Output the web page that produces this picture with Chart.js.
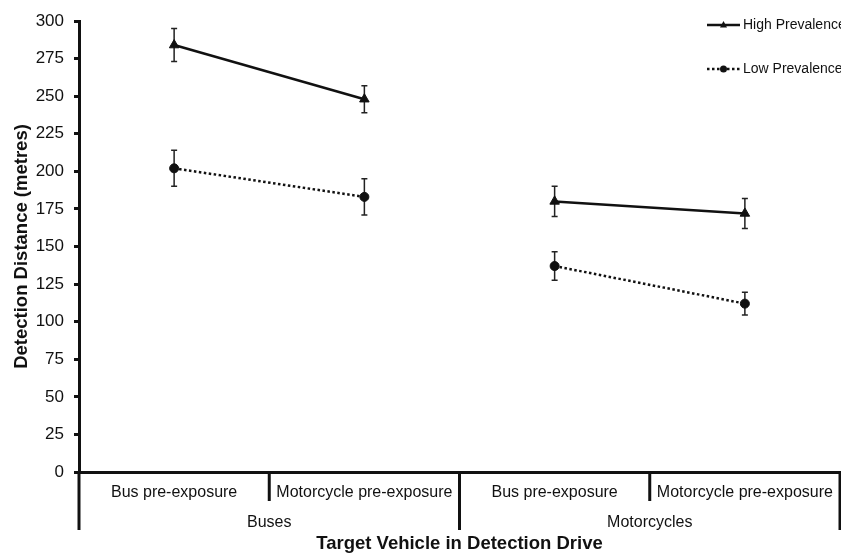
<!DOCTYPE html>
<html>
<head>
<meta charset="utf-8">
<script src="https://cdn.jsdelivr.net/npm/chart.js@4/dist/chart.umd.min.js"></script>
<style>
  html, body { margin: 0; padding: 0; background: #fff; }
  #wrap { width: 841px; height: 553px; position: relative; }
</style>
</head>
<body>
<div id="wrap"><canvas id="detection-chart"></canvas></div>
<script>
const categories = ['Bus pre-exposure', 'Motorcycle pre-exposure', 'Bus pre-exposure', 'Motorcycle pre-exposure'];
const groups = ['Buses', 'Motorcycles'];
const highPrevalence = [284, 248, 180, 172];
const highError = [11, 9, 10, 10];
const lowPrevalence = [202, 183, 137, 112];
const lowError = [12, 12, 9.5, 7.5];
const yMin = 0;
const yMax = 300;
const yStep = 25;

const INK = '#111';
const FONT = "'Liberation Sans', Arial, sans-serif";

// no line between the last Buses point and the first Motorcycles point
const hideGap = (ctx) => (ctx.p0DataIndex === 1 ? 'rgba(0,0,0,0)' : undefined);

const errorBars = {
  id: 'errorBars',
  beforeDatasetsDraw(chart) {
    const { ctx } = chart;
    const y = chart.scales.y;
    ctx.save();
    ctx.strokeStyle = '#222';
    ctx.lineWidth = 1.5;
    chart.data.datasets.forEach((ds, i) => {
      const meta = chart.getDatasetMeta(i);
      meta.data.forEach((pt, j) => {
        const v = ds.data[j];
        const e = ds.errors[j];
        const top = y.getPixelForValue(v + e);
        const bot = y.getPixelForValue(v - e);
        ctx.beginPath();
        ctx.moveTo(pt.x, top);
        ctx.lineTo(pt.x, bot);
        ctx.moveTo(pt.x - 3, top);
        ctx.lineTo(pt.x + 3, top);
        ctx.moveTo(pt.x - 3, bot);
        ctx.lineTo(pt.x + 3, bot);
        ctx.stroke();
      });
    });
    ctx.restore();
  },
};

const groupAxis = {
  id: 'groupAxis',
  afterDraw(chart) {
    const { ctx } = chart;
    const x = chart.scales.x;
    const half = (x.getPixelForValue(1) - x.getPixelForValue(0)) / 2;
    const base = chart.chartArea.bottom;
    const edge = (i) => x.getPixelForValue(i) - half;
    ctx.save();
    ctx.strokeStyle = INK;
    ctx.lineWidth = 3;
    for (let i = 0; i <= categories.length; i++) {
      const long = i % 2 === 0;
      ctx.beginPath();
      ctx.moveTo(edge(i), base);
      ctx.lineTo(edge(i), base + (long ? 58 : 29));
      ctx.stroke();
    }
    ctx.fillStyle = INK;
    ctx.font = '16px ' + FONT;
    ctx.textAlign = 'center';
    ctx.textBaseline = 'middle';
    groups.forEach((g, k) => {
      const cx = (edge(k * 2) + edge(k * 2 + 2)) / 2;
      ctx.fillText(g, cx, base + 51);
    });
    ctx.restore();
  },
};

const cornerLegend = {
  id: 'cornerLegend',
  afterDraw(chart) {
    const { ctx } = chart;
    const x0 = chart.width - 134;
    const rows = [25, 69];
    ctx.save();
    chart.data.datasets.forEach((ds, i) => {
      const yy = rows[i];
      ctx.strokeStyle = INK;
      ctx.lineWidth = 2.5;
      ctx.setLineDash(ds.borderDash || []);
      ctx.beginPath();
      ctx.moveTo(x0, yy);
      ctx.lineTo(x0 + 33, yy);
      ctx.stroke();
      ctx.setLineDash([]);
      ctx.fillStyle = INK;
      ctx.beginPath();
      if (ds.pointStyle === 'triangle') {
        ctx.moveTo(x0 + 16.5, yy - 4);
        ctx.lineTo(x0 + 20, yy + 2.5);
        ctx.lineTo(x0 + 13, yy + 2.5);
        ctx.closePath();
      } else {
        ctx.arc(x0 + 16.5, yy, 3.5, 0, Math.PI * 2);
      }
      ctx.fill();
      ctx.font = '14px ' + FONT;
      ctx.textBaseline = 'middle';
      ctx.fillText(ds.label, x0 + 36, yy);
    });
    ctx.restore();
  },
};

new Chart(document.getElementById('detection-chart'), {
  type: 'line',
  data: {
    labels: categories,
    datasets: [
      {
        label: 'High Prevalence',
        data: highPrevalence,
        errors: highError,
        borderColor: INK,
        borderWidth: 2.5,
        pointStyle: 'triangle',
        pointRadius: 5.5,
        pointBackgroundColor: INK,
        pointBorderColor: INK,
        pointBorderWidth: 1,
        segment: { borderColor: hideGap },
      },
      {
        label: 'Low Prevalence',
        data: lowPrevalence,
        errors: lowError,
        borderColor: INK,
        borderWidth: 2.5,
        borderDash: [2.5, 2.5],
        pointStyle: 'circle',
        pointRadius: 4.5,
        pointBackgroundColor: INK,
        pointBorderColor: INK,
        pointBorderWidth: 1,
        segment: { borderColor: hideGap },
      },
    ],
  },
  options: {
    responsive: true,
    maintainAspectRatio: false,
    animation: false,
    layout: { autoPadding: false, padding: { top: 21, right: 1, left: 0, bottom: 0 } },
    plugins: {
      legend: { display: false },
      tooltip: { enabled: false },
    },
    scales: {
      x: {
        type: 'category',
        offset: true,
        grid: { display: false, drawTicks: false },
        border: { display: true, color: INK, width: 3 },
        ticks: {
          color: INK,
          font: { family: FONT, size: 16, lineHeight: 2.6 },
          padding: 0,
          maxRotation: 0,
          autoSkip: false,
        },
        title: {
          display: true,
          text: 'Target Vehicle in Detection Drive',
          color: INK,
          font: { family: FONT, size: 18.5, weight: 'bold', lineHeight: 1 },
          padding: { top: 0, bottom: 0 },
        },
        afterFit(scale) {
          scale.height = 81;
        },
      },
      y: {
        min: yMin,
        max: yMax,
        ticks: {
          stepSize: yStep,
          color: INK,
          font: { family: FONT, size: 17 },
          padding: 10,
        },
        grid: { drawOnChartArea: false, drawTicks: true, tickLength: 5, lineWidth: 3, color: INK },
        border: { display: true, color: INK, width: 3 },
        title: {
          display: true,
          text: 'Detection Distance (metres)',
          color: INK,
          font: { family: FONT, size: 18.5, weight: 'bold' },
          padding: { top: 11, bottom: 0 },
        },
        afterFit(scale) {
          scale.width = 79;
        },
      },
    },
  },
  plugins: [errorBars, groupAxis, cornerLegend],
});
</script>
</body>
</html>
